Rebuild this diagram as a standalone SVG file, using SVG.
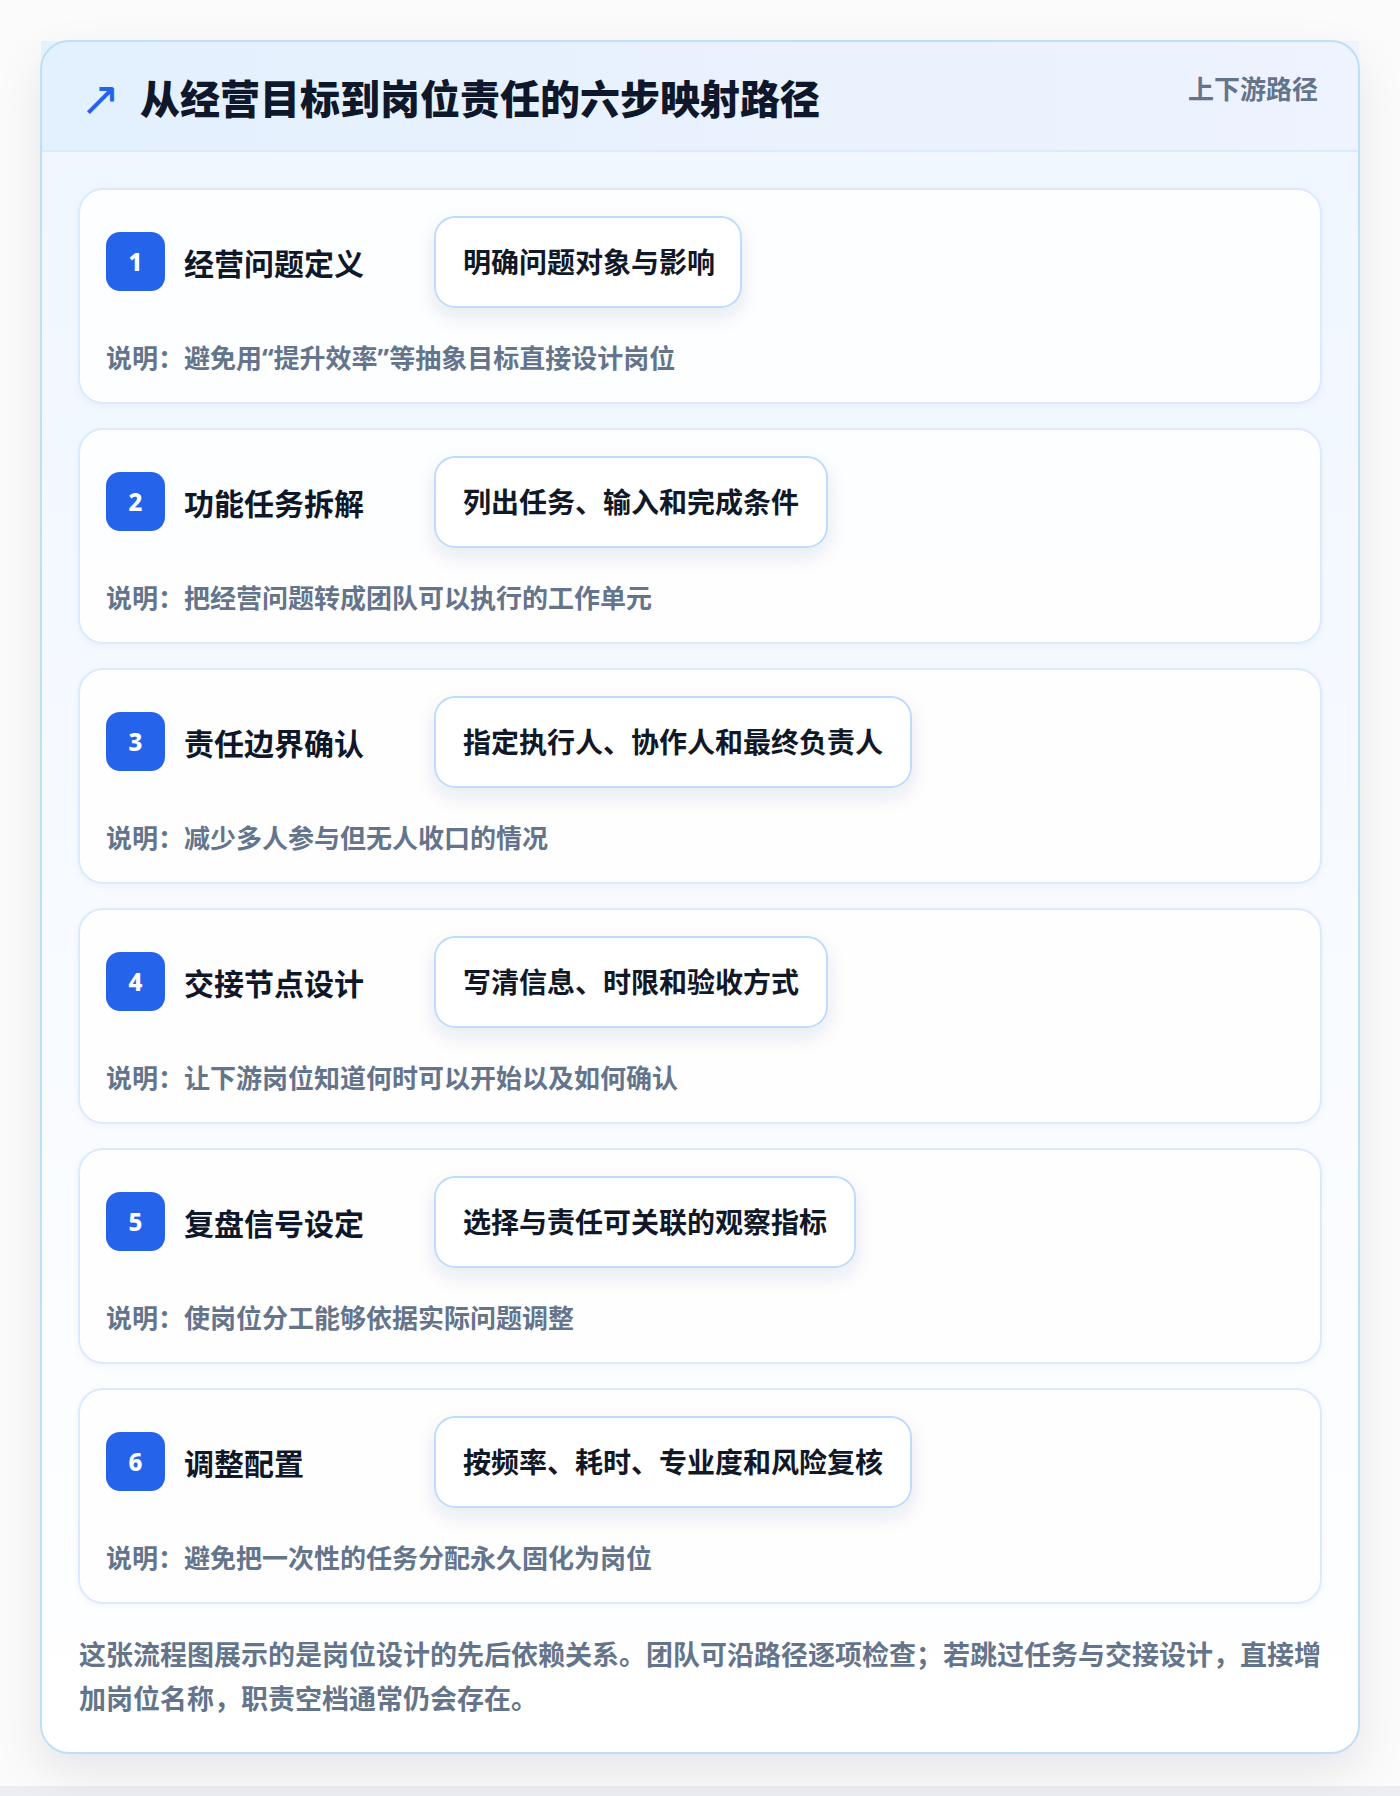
<svg xmlns="http://www.w3.org/2000/svg" width="1400" height="1796" viewBox="0 0 1400 1796">
<defs>
<linearGradient id="hdr" x1="0" y1="0" x2="1" y2="0"><stop offset="0" stop-color="#e3f0fd"/><stop offset="1" stop-color="#eef3fe"/></linearGradient>
<linearGradient id="body" x1="0" y1="0" x2="0" y2="1"><stop offset="0" stop-color="#eff6ff"/><stop offset="1" stop-color="#ffffff"/></linearGradient>
<filter id="outerShadow" x="-10%" y="-10%" width="120%" height="120%"><feDropShadow dx="0" dy="18" stdDeviation="22" flood-color="#0f172a" flood-opacity="0.09"/></filter>
<filter id="pillShadow" x="-20%" y="-30%" width="140%" height="180%"><feDropShadow dx="0" dy="8" stdDeviation="9" flood-color="#1e3a5f" flood-opacity="0.10"/></filter>
<filter id="cardShadow" x="-5%" y="-10%" width="110%" height="130%"><feDropShadow dx="0" dy="2" stdDeviation="3" flood-color="#1e3a5f" flood-opacity="0.04"/></filter>
</defs>
<style>
.t{font-family:"Noto Sans","Noto Sans CJK SC",sans-serif;font-weight:700}
.title{font-size:40px;fill:#0f172a;font-weight:800}
.tag{font-size:26px;fill:#64748b}
.icon{font-family:"DejaVu Sans",sans-serif;font-size:48px;fill:#2563eb}
.card{fill:#ffffff;fill-opacity:0.9;stroke:#dbeafe;stroke-width:2}
.badge{fill:#2563eb}
.num{font-family:"Noto Sans","DejaVu Sans",sans-serif;font-weight:800;font-size:24px;fill:#ffffff}
.st{font-size:30px;fill:#0f172a}
.pill{fill:#ffffff;stroke:#bfdbfe;stroke-width:2}
.pt{font-size:28px;fill:#111827}
.desc{font-size:26px;fill:#64748b}
.foot{font-size:27px;fill:#64748b}
</style>
<rect x="0" y="0" width="1400" height="1796" fill="#fbfbfc"/>
<rect x="0" y="1786" width="1400" height="10" fill="#eceef3"/>
<g id="panel">
<rect x="41" y="41" width="1318" height="1712" rx="28" fill="url(#body)" filter="url(#outerShadow)"/>
<rect x="41" y="41" width="1318" height="110" fill="url(#hdr)"/>
<line x1="41" y1="151" x2="1359" y2="151" stroke="#dbeafe" stroke-width="2"/>
<rect x="41" y="41" width="1318" height="1712" rx="28" fill="none" stroke="#bee0f6" stroke-width="2"/>
<text class="icon" x="80" y="115">↗</text>
<text class="t title" x="140" y="114">从经营目标到岗位责任的六步映射路径</text>
<text class="t tag" x="1318" y="99" text-anchor="end">上下游路径</text>
</g>
<g id="step1">
<rect class="card" x="79" y="189" width="1242" height="214" rx="24" filter="url(#cardShadow)"/>
<rect class="badge" x="106" y="232" width="59" height="59" rx="14"/>
<text class="num" x="135.5" y="271" text-anchor="middle">1</text>
<text class="t st" x="184" y="275">经营问题定义</text>
<rect class="pill" x="435" y="217" width="306" height="90" rx="20" filter="url(#pillShadow)"/>
<text class="t pt" x="463" y="273">明确问题对象与影响</text>
<text class="t desc" x="106" y="368">说明：避免用“提升效率”等抽象目标直接设计岗位</text>
</g>
<g id="step2">
<rect class="card" x="79" y="429" width="1242" height="214" rx="24" filter="url(#cardShadow)"/>
<rect class="badge" x="106" y="472" width="59" height="59" rx="14"/>
<text class="num" x="135.5" y="511" text-anchor="middle">2</text>
<text class="t st" x="184" y="515">功能任务拆解</text>
<rect class="pill" x="435" y="457" width="392" height="90" rx="20" filter="url(#pillShadow)"/>
<text class="t pt" x="463" y="513">列出任务、输入和完成条件</text>
<text class="t desc" x="106" y="608">说明：把经营问题转成团队可以执行的工作单元</text>
</g>
<g id="step3">
<rect class="card" x="79" y="669" width="1242" height="214" rx="24" filter="url(#cardShadow)"/>
<rect class="badge" x="106" y="712" width="59" height="59" rx="14"/>
<text class="num" x="135.5" y="751" text-anchor="middle">3</text>
<text class="t st" x="184" y="755">责任边界确认</text>
<rect class="pill" x="435" y="697" width="476" height="90" rx="20" filter="url(#pillShadow)"/>
<text class="t pt" x="463" y="753">指定执行人、协作人和最终负责人</text>
<text class="t desc" x="106" y="848">说明：减少多人参与但无人收口的情况</text>
</g>
<g id="step4">
<rect class="card" x="79" y="909" width="1242" height="214" rx="24" filter="url(#cardShadow)"/>
<rect class="badge" x="106" y="952" width="59" height="59" rx="14"/>
<text class="num" x="135.5" y="991" text-anchor="middle">4</text>
<text class="t st" x="184" y="995">交接节点设计</text>
<rect class="pill" x="435" y="937" width="392" height="90" rx="20" filter="url(#pillShadow)"/>
<text class="t pt" x="463" y="993">写清信息、时限和验收方式</text>
<text class="t desc" x="106" y="1088">说明：让下游岗位知道何时可以开始以及如何确认</text>
</g>
<g id="step5">
<rect class="card" x="79" y="1149" width="1242" height="214" rx="24" filter="url(#cardShadow)"/>
<rect class="badge" x="106" y="1192" width="59" height="59" rx="14"/>
<text class="num" x="135.5" y="1231" text-anchor="middle">5</text>
<text class="t st" x="184" y="1235">复盘信号设定</text>
<rect class="pill" x="435" y="1177" width="420" height="90" rx="20" filter="url(#pillShadow)"/>
<text class="t pt" x="463" y="1233">选择与责任可关联的观察指标</text>
<text class="t desc" x="106" y="1328">说明：使岗位分工能够依据实际问题调整</text>
</g>
<g id="step6">
<rect class="card" x="79" y="1389" width="1242" height="214" rx="24" filter="url(#cardShadow)"/>
<rect class="badge" x="106" y="1432" width="59" height="59" rx="14"/>
<text class="num" x="135.5" y="1471" text-anchor="middle">6</text>
<text class="t st" x="184" y="1475">调整配置</text>
<rect class="pill" x="435" y="1417" width="476" height="90" rx="20" filter="url(#pillShadow)"/>
<text class="t pt" x="463" y="1473">按频率、耗时、专业度和风险复核</text>
<text class="t desc" x="106" y="1568">说明：避免把一次性的任务分配永久固化为岗位</text>
</g>
<g id="connectors"></g>
<g id="footer">
<text class="t foot" x="79" y="1665">这张流程图展示的是岗位设计的先后依赖关系。团队可沿路径逐项检查；若跳过任务与交接设计，直接增</text>
<text class="t foot" x="79" y="1709">加岗位名称，职责空档通常仍会存在。</text>
</g>
</svg>
